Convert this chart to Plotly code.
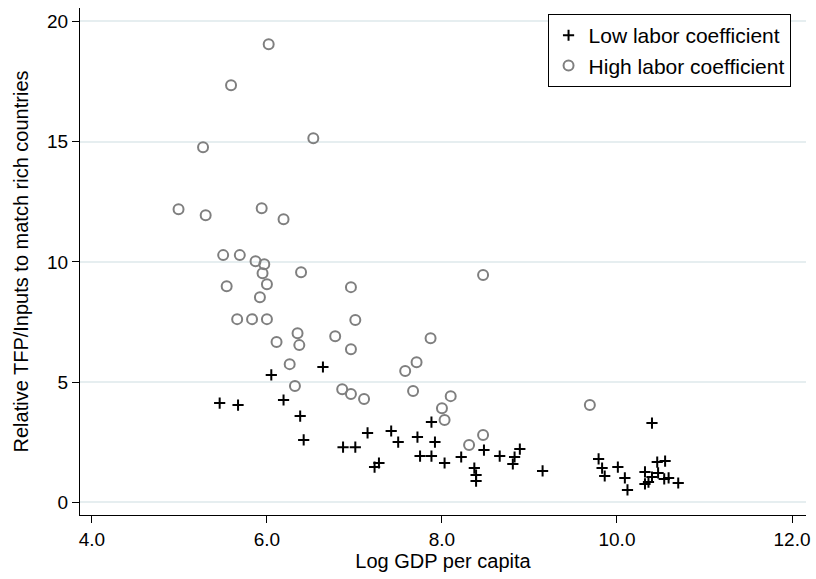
import plotly.graph_objects as go

# Log GDP per capita and relative TFP/inputs, low labor coefficient group
low_x = [5.46, 5.67, 6.05, 6.64, 6.19, 6.38, 6.42, 6.87, 7.01, 7.15, 7.42, 7.50,
         7.23, 7.28, 7.72, 7.88, 7.92, 7.75, 7.88, 8.03, 8.22, 8.48, 8.37, 8.39,
         8.39, 8.66, 8.89, 8.83, 8.81, 9.15, 10.40, 9.79, 9.83, 9.86, 10.01, 10.09,
         10.12, 10.32, 10.32, 10.36, 10.40, 10.46, 10.55, 10.47, 10.54, 10.59, 10.70]
low_y = [4.13, 4.05, 5.30, 5.63, 4.26, 3.59, 2.60, 2.30, 2.30, 2.89, 2.97, 2.51,
         1.47, 1.64, 2.72, 3.34, 2.51, 1.93, 1.93, 1.64, 1.89, 2.18, 1.43, 1.14,
         0.89, 1.93, 2.22, 1.89, 1.60, 1.31, 3.30, 1.81, 1.43, 1.10, 1.47, 1.02,
         0.52, 1.27, 0.77, 0.85, 1.06, 1.68, 1.72, 1.23, 0.98, 1.02, 0.81]

# High labor coefficient group
high_x = [6.02, 5.59, 5.27, 6.53, 4.99, 5.30, 5.94, 6.19, 5.50, 5.69, 5.87, 5.97,
          5.95, 6.39, 5.54, 6.00, 5.92, 8.47, 6.96, 5.66, 5.83, 6.00, 7.01, 6.35,
          6.37, 6.11, 6.78, 6.96, 7.87, 7.71, 7.58, 6.26, 6.32, 6.86, 6.96, 7.11,
          7.67, 8.10, 8.00, 8.03, 8.47, 8.31, 9.69]
high_y = [19.04, 17.34, 14.76, 15.14, 12.19, 11.94, 12.23, 11.77, 10.28, 10.28, 10.03, 9.90,
          9.53, 9.57, 8.99, 9.07, 8.53, 9.45, 8.95, 7.62, 7.62, 7.62, 7.58, 7.03,
          6.54, 6.67, 6.91, 6.37, 6.83, 5.83, 5.46, 5.75, 4.84, 4.71, 4.51, 4.30,
          4.63, 4.42, 3.92, 3.43, 2.80, 2.39, 4.05]

x_ticks = [4, 6, 8, 10, 12]
x_tick_text = ["4.0", "6.0", "8.0", "10.0", "12.0"]
y_ticks = [0, 5, 10, 15, 20]

FONT = "Liberation Sans, Arial, Helvetica, sans-serif"

fig = go.Figure()
fig.add_trace(go.Scatter(
    x=low_x, y=low_y, mode="markers", name="Low labor coefficient",
    marker=dict(symbol="cross-thin", size=8, color="black",
                line=dict(color="black", width=2)),
))
fig.add_trace(go.Scatter(
    x=high_x, y=high_y, mode="markers", name="High labor coefficient",
    marker=dict(symbol="circle-open", size=10, color="#7f7f7f",
                line=dict(color="#7f7f7f", width=2)),
))

fig.update_layout(
    width=816, height=579,
    margin=dict(l=80, r=6, t=8, b=64),
    paper_bgcolor="white", plot_bgcolor="white",
    font=dict(family=FONT, size=19, color="black"),
    showlegend=True,
    legend=dict(
        x=0.644, y=0.988, xanchor="left", yanchor="top",
        bordercolor="black", borderwidth=1, bgcolor="white",
        font=dict(family=FONT, size=21, color="black"),
        tracegroupgap=0,
    ),
    xaxis=dict(
        range=[3.864, 12.16], tickvals=x_ticks, ticktext=x_tick_text,
        showgrid=False, zeroline=False,
        showline=True, linecolor="black", linewidth=1,
        ticks="outside", ticklen=7, tickcolor="black",
        tickfont=dict(size=19),
        title=dict(text="Log GDP per capita", font=dict(size=20), standoff=4),
    ),
    yaxis=dict(
        range=[-0.52, 20.55], tickvals=y_ticks,
        showgrid=True, gridcolor="#e6eef0", gridwidth=1.5, zeroline=False,
        showline=True, linecolor="black", linewidth=1,
        ticks="outside", ticklen=7, tickcolor="black",
        tickfont=dict(size=19),
        title=dict(text="Relative TFP/Inputs to match rich countries",
                   font=dict(size=20), standoff=13),
    ),
)

fig.write_html("out.html")
